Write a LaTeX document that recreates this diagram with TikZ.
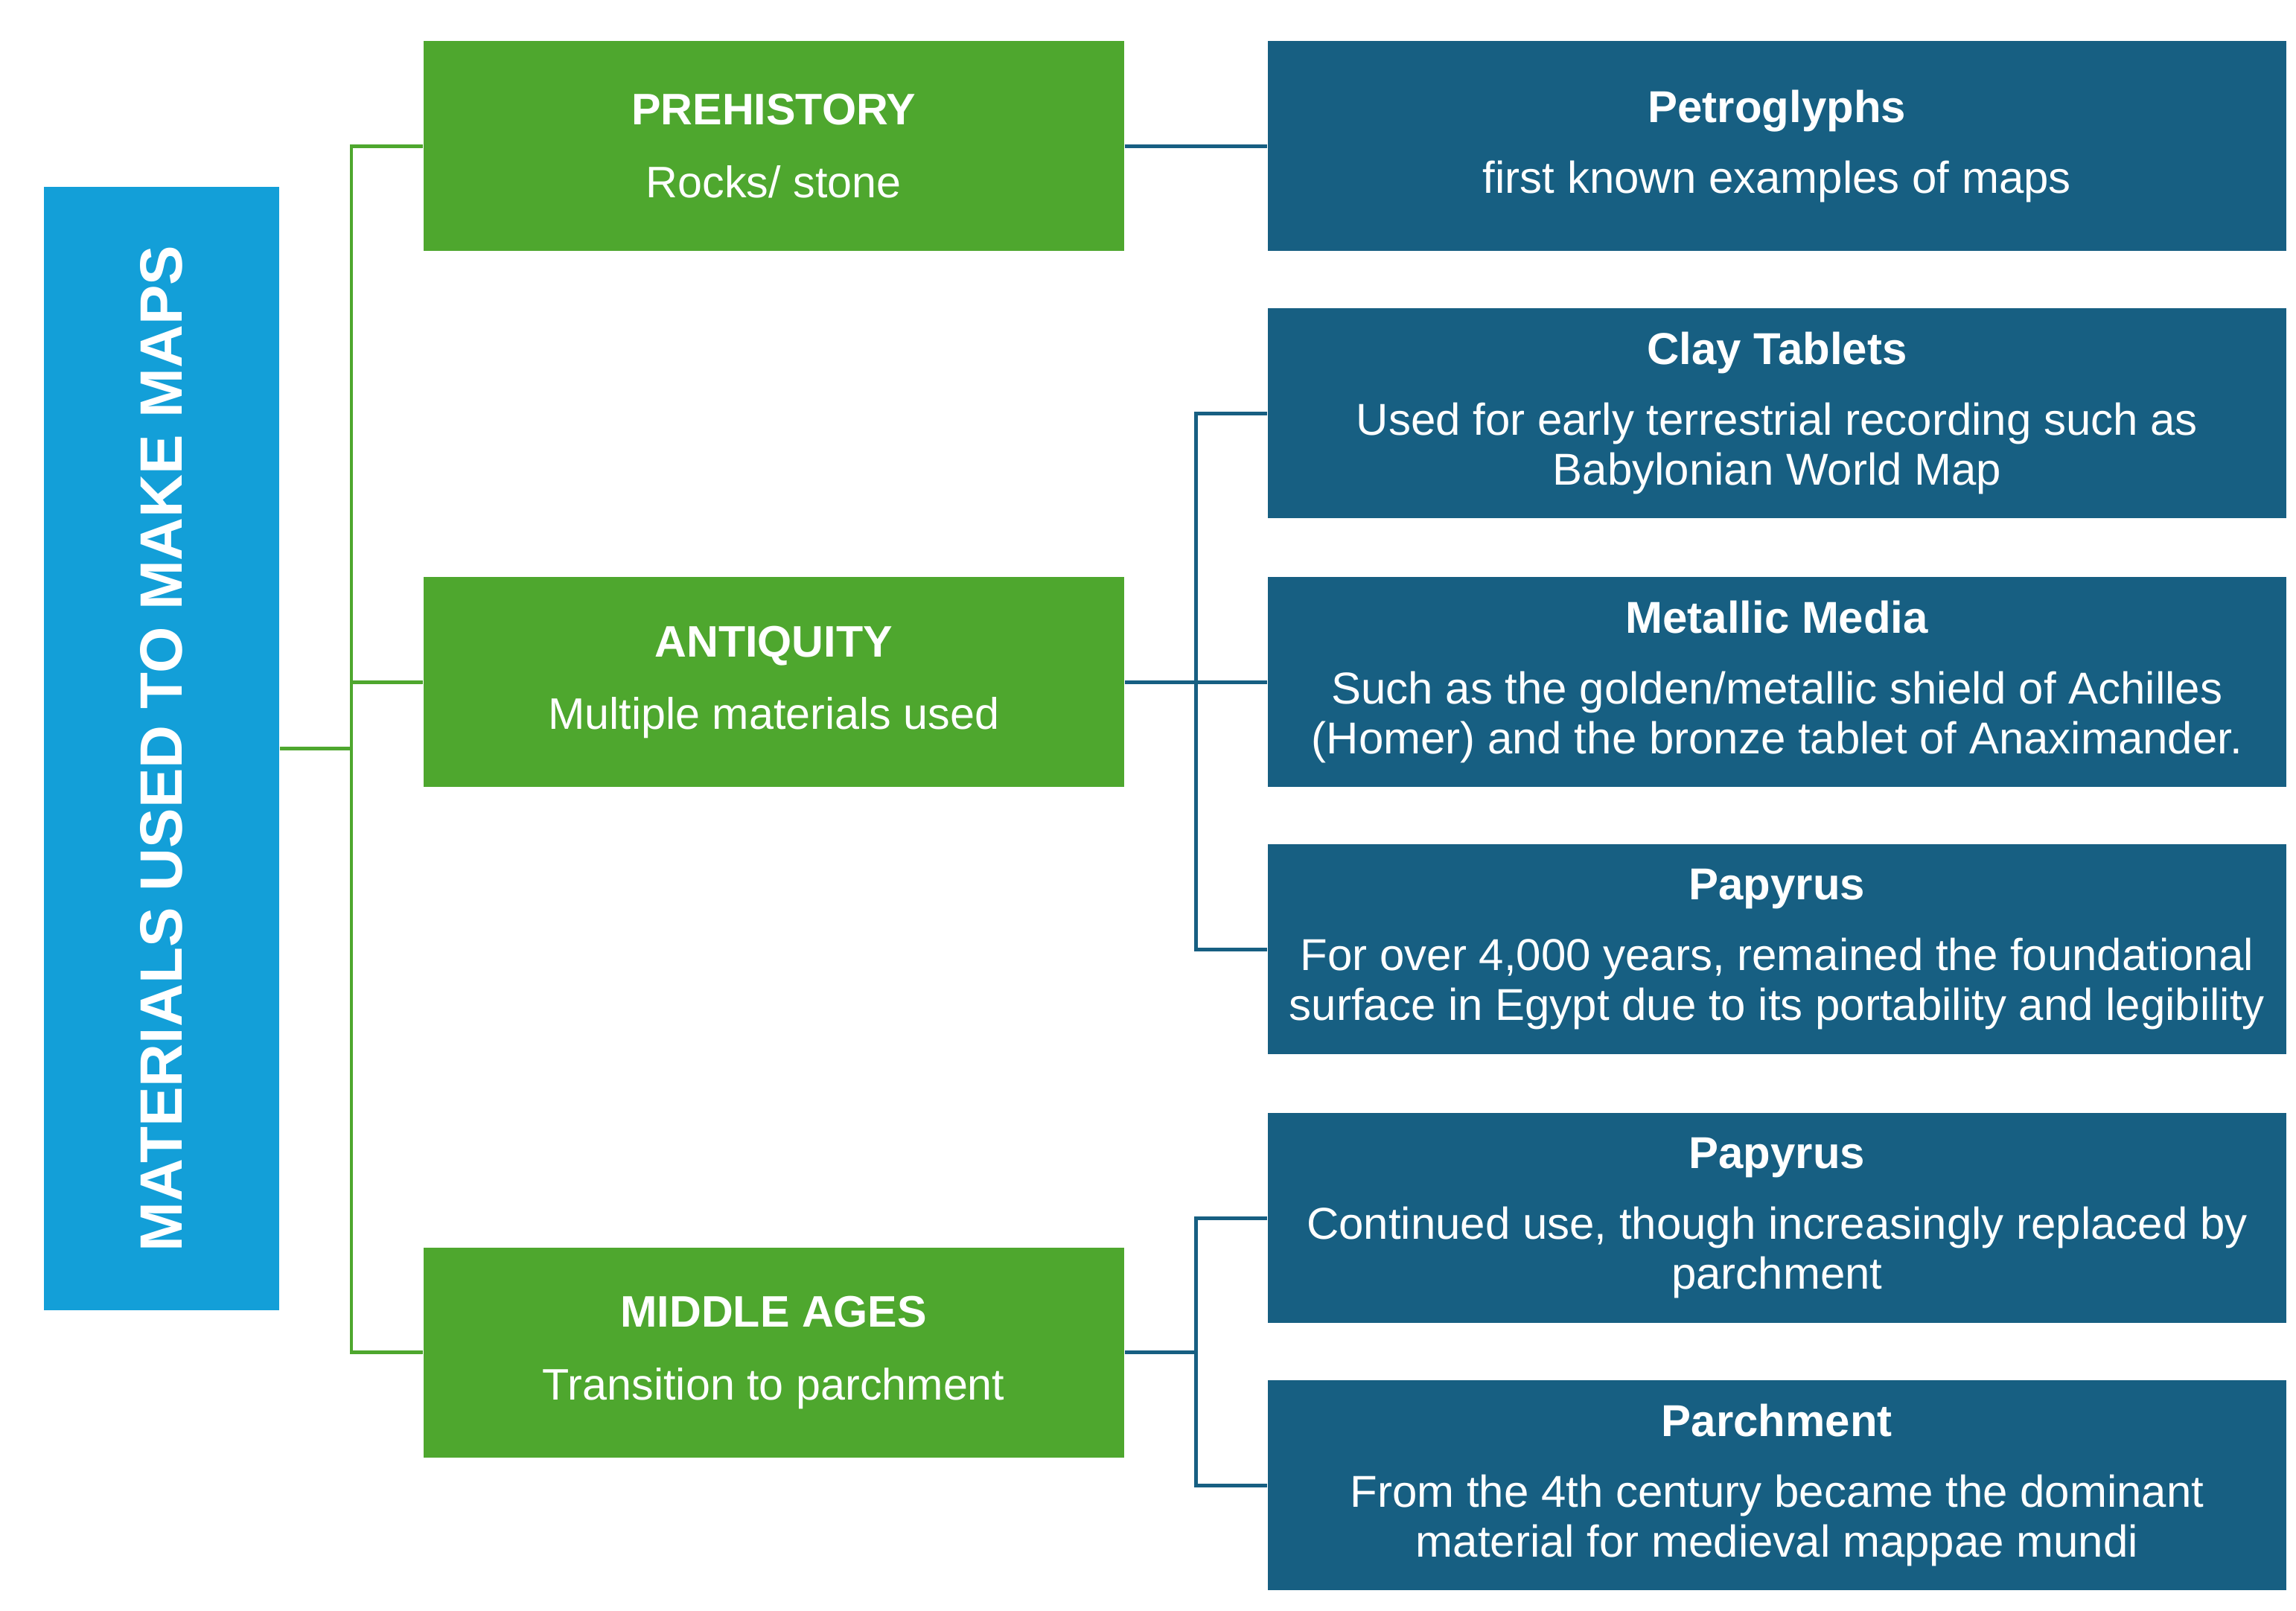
\documentclass[tikz,border=0pt]{standalone}
\usepackage{fontspec}
\setmainfont{Liberation Sans}
\definecolor{mainblue}{HTML}{139FD8}
\definecolor{eragreen}{HTML}{4EA72E}
\definecolor{matblue}{HTML}{175F82}
\begin{document}
\begin{tikzpicture}[x=0.01cm,y=-0.01cm,
era/.style={fill=eragreen,text=white,minimum width=4.74cm,minimum height=1.42cm,align=center,font=\fontsize{8.5}{10}\selectfont,inner sep=0pt},
mat/.style={fill=matblue,text=white,minimum width=6.89cm,minimum height=1.42cm,align=center,font=\fontsize{8.6}{9.6}\selectfont,inner sep=0pt},
gline/.style={draw=eragreen,line width=0.7pt},
bline/.style={draw=matblue,line width=0.7pt}]
\useasboundingbox (0,0) rectangle (1555,1091);
\node[fill=mainblue,text=white,minimum width=1.59cm,minimum height=7.60cm,font=\fontsize{11.5}{13}\selectfont\bfseries] (root) at (109.5,507) {\rotatebox{90}{MATERIALS USED TO MAKE MAPS}};
\node[era] (pre) at (524,99) {\textbf{PREHISTORY}\\[4pt]Rocks/ stone};
\node[era] (ant) at (524,462) {\textbf{ANTIQUITY}\\[4pt]Multiple materials used};
\node[era] (mid) at (524,916) {\textbf{MIDDLE AGES}\\[4pt]Transition to parchment};
\node[mat] (petro) at (1203.5,99) {\textbf{Petroglyphs}\\[4pt]first known examples of maps};
\node[mat] (clay) at (1203.5,280) {\textbf{Clay Tablets}\\[4pt]Used for early terrestrial recording such as\\Babylonian World Map};
\node[mat] (metal) at (1203.5,462) {\textbf{Metallic Media}\\[4pt]Such as the golden/metallic shield of Achilles\\(Homer) and the bronze tablet of Anaximander.};
\node[mat] (papa) at (1203.5,643) {\textbf{Papyrus}\\[4pt]For over 4,000 years, remained the foundational\\surface in Egypt due to its portability and legibility};
\node[mat] (papm) at (1203.5,825) {\textbf{Papyrus}\\[4pt]Continued use, though increasingly replaced by\\parchment};
\node[mat] (parch) at (1203.5,1006) {\textbf{Parchment}\\[4pt]From the 4th century became the dominant\\material for medieval mappae mundi};
% green tree
\coordinate (gj) at (238,507);
\draw[gline] (root.east) -- (gj);
\foreach \e in {pre,ant,mid}{\draw[gline] (gj) |- (\e.west);}
% blue branches
\draw[bline] (pre.east) -- (petro.west);
\coordinate (aj) at (810,462);
\draw[bline] (ant.east) -- (aj);
\foreach \m in {clay,metal,papa}{\draw[bline] (aj) |- (\m.west);}
\coordinate (mj) at (810,916);
\draw[bline] (mid.east) -- (mj);
\foreach \m in {papm,parch}{\draw[bline] (mj) |- (\m.west);}
\end{tikzpicture}
\end{document}
